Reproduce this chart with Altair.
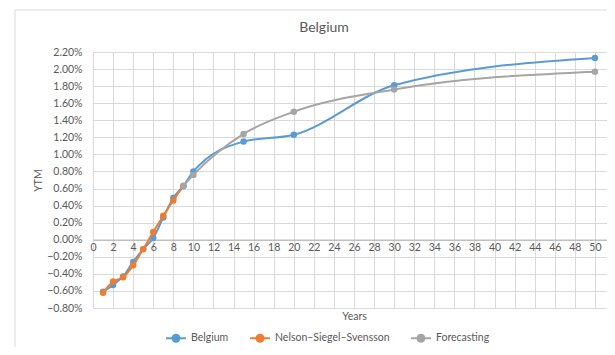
import altair as alt
import pandas as pd

chart_title = "Belgium"
series_names = ["Belgium", "Nelson\u2013Siegel\u2013Svensson", "Forecasting"]
series_colors = ["#5B9BD5", "#ED7D31", "#A5A5A5"]

belgium_years = [1, 2, 3, 4, 5, 6, 7, 8, 9, 10, 15, 20, 30, 50]
belgium_ytm = [-0.61, -0.53, -0.43, -0.26, -0.11, 0.02, 0.26, 0.49, 0.63, 0.80, 1.15, 1.23, 1.81, 2.13]

nss_years = [1, 2, 3, 4, 5, 6, 7, 8, 9]
nss_ytm = [-0.62, -0.49, -0.44, -0.30, -0.11, 0.09, 0.28, 0.46, 0.63]

fc_years = [9, 10, 15, 20, 30, 50]
fc_ytm = [0.63, 0.76, 1.24, 1.50, 1.76, 1.97]

x_ticks = list(range(0, 53, 2))
y_ticks = [round(-0.8 + 0.2 * i, 2) for i in range(16)]

rows = []
for name, xs, ys in [(series_names[0], belgium_years, belgium_ytm),
                     (series_names[1], nss_years, nss_ytm),
                     (series_names[2], fc_years, fc_ytm)]:
    for xv, yv in zip(xs, ys):
        rows.append({"series": name, "years": xv, "ytm": yv})
df = pd.DataFrame(rows)
one = pd.DataFrame({"label": [chart_title]})

FONT = "Lato"
TXT = "#595959"
GRID = "#d9d9d9"

W, H = 514, 256
zero_from_bottom = H * 0.8 / 3.0

color = alt.Color(
    "series:N",
    scale=alt.Scale(domain=series_names, range=series_colors),
    legend=alt.Legend(
        title=None, orient="none", direction="horizontal",
        legendX=72, legendY=275, padding=0,
        symbolType="M-1,0H1M0.35,0A0.35,0.35 0 1,1 -0.35,0A0.35,0.35 0 1,1 0.35,0Z",
        symbolSize=400, symbolStrokeWidth=2,
        labelFont=FONT, labelFontSize=10.5, labelColor=TXT,
        columnPadding=17, labelOffset=4,
    ),
)

x_enc = alt.X(
    "years:Q",
    scale=alt.Scale(domain=[0, 51.2], nice=False, zero=False),
    axis=alt.Axis(
        values=x_ticks, grid=True, gridColor=GRID, ticks=False,
        domainColor="#bfbfbf", domainWidth=1.5,
        offset=-zero_from_bottom, labelPadding=3,
        labelFont=FONT, labelFontSize=10.5, labelColor=TXT,
        title="Years", titleFont=FONT, titleFontSize=10.5, titleColor=TXT,
        titleFontWeight="normal", titleY=77, titleX=261, titleBaseline="middle",
        labelFlush=False,
    ),
)
y_enc = alt.Y(
    "ytm:Q",
    scale=alt.Scale(domain=[-0.8, 2.2], nice=False, zero=False),
    axis=alt.Axis(
        values=y_ticks, grid=True, gridColor=GRID, ticks=False, domain=False,
        labelExpr="format(datum.value, '.2f') + '%'", labelPadding=11,
        labelFont=FONT, labelFontSize=10.5, labelColor=TXT,
        title="YTM", titleFont=FONT, titleFontSize=10.5, titleColor=TXT,
        titleFontWeight="normal", titleX=-55, titleY=H / 2,
        titleBaseline="middle", titleAlign="center",
    ),
)

base = alt.Chart(df)
layers = []
for name in series_names:
    sub = base.transform_filter(alt.datum.series == name)
    layers.append(sub.mark_line(interpolate="monotone", strokeWidth=2).encode(x=x_enc, y=y_enc, color=color))
    layers.append(sub.mark_circle(size=42, opacity=1).encode(x=x_enc, y=y_enc, color=color))

border_top = alt.Chart(one).mark_rule(color="#d9d9d9", strokeWidth=1).encode(
    x=alt.value(-78), x2=alt.value(W), y=alt.value(-42))
border_left = alt.Chart(one).mark_rule(color="#d9d9d9", strokeWidth=1).encode(
    x=alt.value(-78), y=alt.value(-42), y2=alt.value(H + 39))
title_text = alt.Chart(one).mark_text(
    font=FONT, fontSize=14, color=TXT, align="center", baseline="middle"
).encode(x=alt.value(231), y=alt.value(-24), text="label:N")

chart = alt.layer(border_top, border_left, title_text, *layers).properties(
    width=W, height=H,
    autosize=alt.AutoSizeParams(type="none"),
    padding={"left": 85, "top": 44, "right": 0, "bottom": 39},
).configure_view(stroke=None)

chart.save("out.html", embed_options={"renderer": "svg", "actions": False})
